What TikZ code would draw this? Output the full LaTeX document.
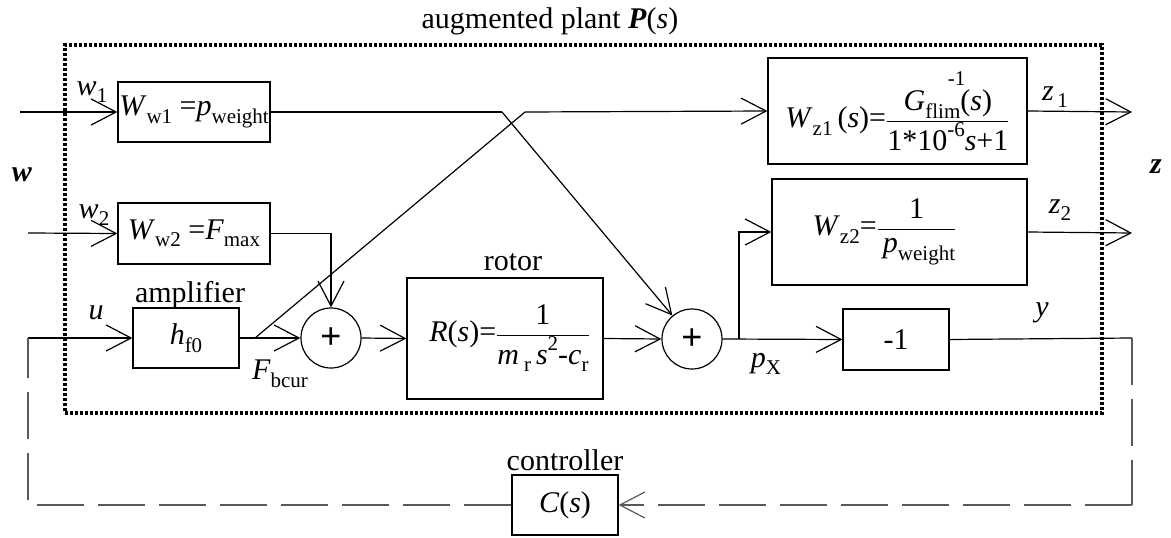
\documentclass[tikz,border=0pt]{standalone}
\usepackage{fontspec}
\setmainfont{Liberation Serif}
\newfontfamily\plusfont{Liberation Sans}
\usetikzlibrary{arrows.meta}
\newcommand\lo[1]{\raisebox{-0.25em}{\fontsize{21}{21}\selectfont #1}}
\newcommand\hi[1]{\raisebox{0.45em}{\fontsize{21}{21}\selectfont #1}}
\newcommand\frc[2]{$\displaystyle\frac{\mbox{#1}}{\mbox{#2}}$}
\tikzset{
  every node/.style={font=\fontsize{30}{36}\selectfont},
  blk/.style={draw, line width=1.2pt, inner sep=0pt, align=center},
  sumnode/.style={draw, circle, line width=1.2pt, minimum size=60pt, inner sep=0pt, font=\plusfont\fontsize{36}{36}\selectfont},
  lbl/.style={inner sep=0pt},
  wire/.style={line width=1.2pt},
  arr/.style={line width=1.2pt, -{Straight Barb[length=25pt,width=26pt]}},
  fb/.style={line width=1.2pt, draw=black!65, dash pattern=on 47pt off 14pt},
  plantbox/.style={draw, line width=3.2pt, dash pattern=on 3pt off 2pt, inner sep=0pt}
}
\begin{document}
\begin{tikzpicture}[x=1pt,y=-1pt]
\useasboundingbox (0,0) rectangle (1171,538);
% augmented plant frame
\node[plantbox, minimum width=1037pt, minimum height=368pt] (plant) at (583.5,229) {};
\node[lbl] (title) at (550,21) {augmented plant \textbf{\textit{P}}(\textit{s})};
% blocks
\node[blk, minimum width=152pt, minimum height=60pt] (ww1) at (194,112) {\textit{W}\lo{w1} =\textit{p}\lo{weight}};
\node[blk, minimum width=152pt, minimum height=61pt] (ww2) at (194,233.5) {\textit{W}\lo{w2} =\textit{F}\lo{max}};
\node[blk, minimum width=106pt, minimum height=60pt] (amp) at (186,338) {\textit{h}\lo{f0}};
\node[sumnode] (sum1) at (331,338) {+};
\node[blk, minimum width=196pt, minimum height=121pt] (rot) at (505,338.5) {\hspace{0.3em}\textit{R}(\textit{s})=\frc{1}{\textit{m}\,\lo{r}\,\textit{s}\hi{2}-\textit{c}\lo{r}}};
\node[sumnode] (sum2) at (692,339) {+};
\node[blk, minimum width=259pt, minimum height=106pt] (wz1) at (897.5,111) {\textit{W}\lo{z1}\,(\textit{s})=\frc{\textit{G}\rlap{\hspace{0.75em}\raisebox{0.85em}{\fontsize{21}{21}\selectfont -1}}\lo{flim}(\textit{s})}{1*10\hi{-6}\textit{s}+1}};
\node[blk, minimum width=255pt, minimum height=106pt] (wz2) at (899.5,232) {\textit{W}\lo{z2}=\frc{1}{\,\textit{p}\lo{weight}}\hspace{1em}};
\node[blk, minimum width=106pt, minimum height=61pt] (neg) at (896,339.5) {-1};
\node[blk, minimum width=106pt, minimum height=60pt] (ctrl) at (565,505) {\textit{C}(\textit{s})};
% labels
\node[lbl] (lw) at (22,175) {\textbf{\textit{w}}};
\node[lbl] (lz) at (1156,167) {\textbf{\textit{z}}};
\node[lbl] (lw1) at (92,92) {\textit{w}\lo{1}};
\node[lbl] (lw2) at (94,215) {\textit{w}\lo{2}};
\node[lbl] (lu) at (96,313) {\textit{u}};
\node[lbl, anchor=base] (lamp) at (190,302) {amplifier};
\node[lbl] (lf) at (280,374) {\textit{F}\lo{bcur}};
\node[lbl, anchor=base] (lrot) at (513,270) {rotor};
\node[lbl] (lpx) at (766,364) {\textit{p}\lo{X}};
\node[lbl] (ly) at (1042,313) {\textit{y}};
\node[lbl] (lz1) at (1055,97) {\textit{z}\lo{\,1}};
\node[lbl] (lz2) at (1060,210) {\textit{z}\lo{2}};
\node[lbl, anchor=base] (lctrl) at (565,470) {controller};
% coordinates
\coordinate (w1in) at (20,112);
\coordinate (w2in) at (28,233);
\coordinate (fbr) at (255,338);
\coordinate (d1) at (525,112);
\coordinate (wb) at (502,112);
\coordinate (pb) at (739,339);
\coordinate (z1out) at (1132,112);
\coordinate (z2out) at (1132,233);
\coordinate (fb1) at (1132,338);
\coordinate (fb2) at (1132,505);
\coordinate (fb3) at (28,505);
\coordinate (fb4) at (28,338);
% connectors
\draw[arr] (w1in) -- (ww1.west);
\draw[arr] (w2in) -- (ww2.west);
\draw[arr] (fb4) -- (amp.west);
\draw[arr] (amp.east) -- (sum1.west);
\draw[wire] (fbr) -- (d1);
\draw[arr] (d1) -- (wz1.west);
\draw[wire] (ww1.east) -- (wb);
\draw[arr] (wb) -- (sum2);
\draw[arr] (ww2.east) -| (sum1.north);
\draw[arr] (sum1.east) -- (rot.west);
\draw[arr] (rot.east) -- (sum2.west);
\draw[arr] (sum2.east) -- (neg.west);
\draw[arr] (pb) |- (wz2.west);
\draw[arr] (wz1.east) -- (z1out);
\draw[arr] (wz2.east) -- (z2out);
\draw[wire] (neg.east) -- (fb1);
\draw[fb] (fb1) -- (fb2);
\draw[fb, -{Straight Barb[length=25pt,width=26pt]}] (fb2) -- (ctrl.east);
\draw[fb] (ctrl.west) -- (fb3) -- (fb4);
\end{tikzpicture}
\end{document}
